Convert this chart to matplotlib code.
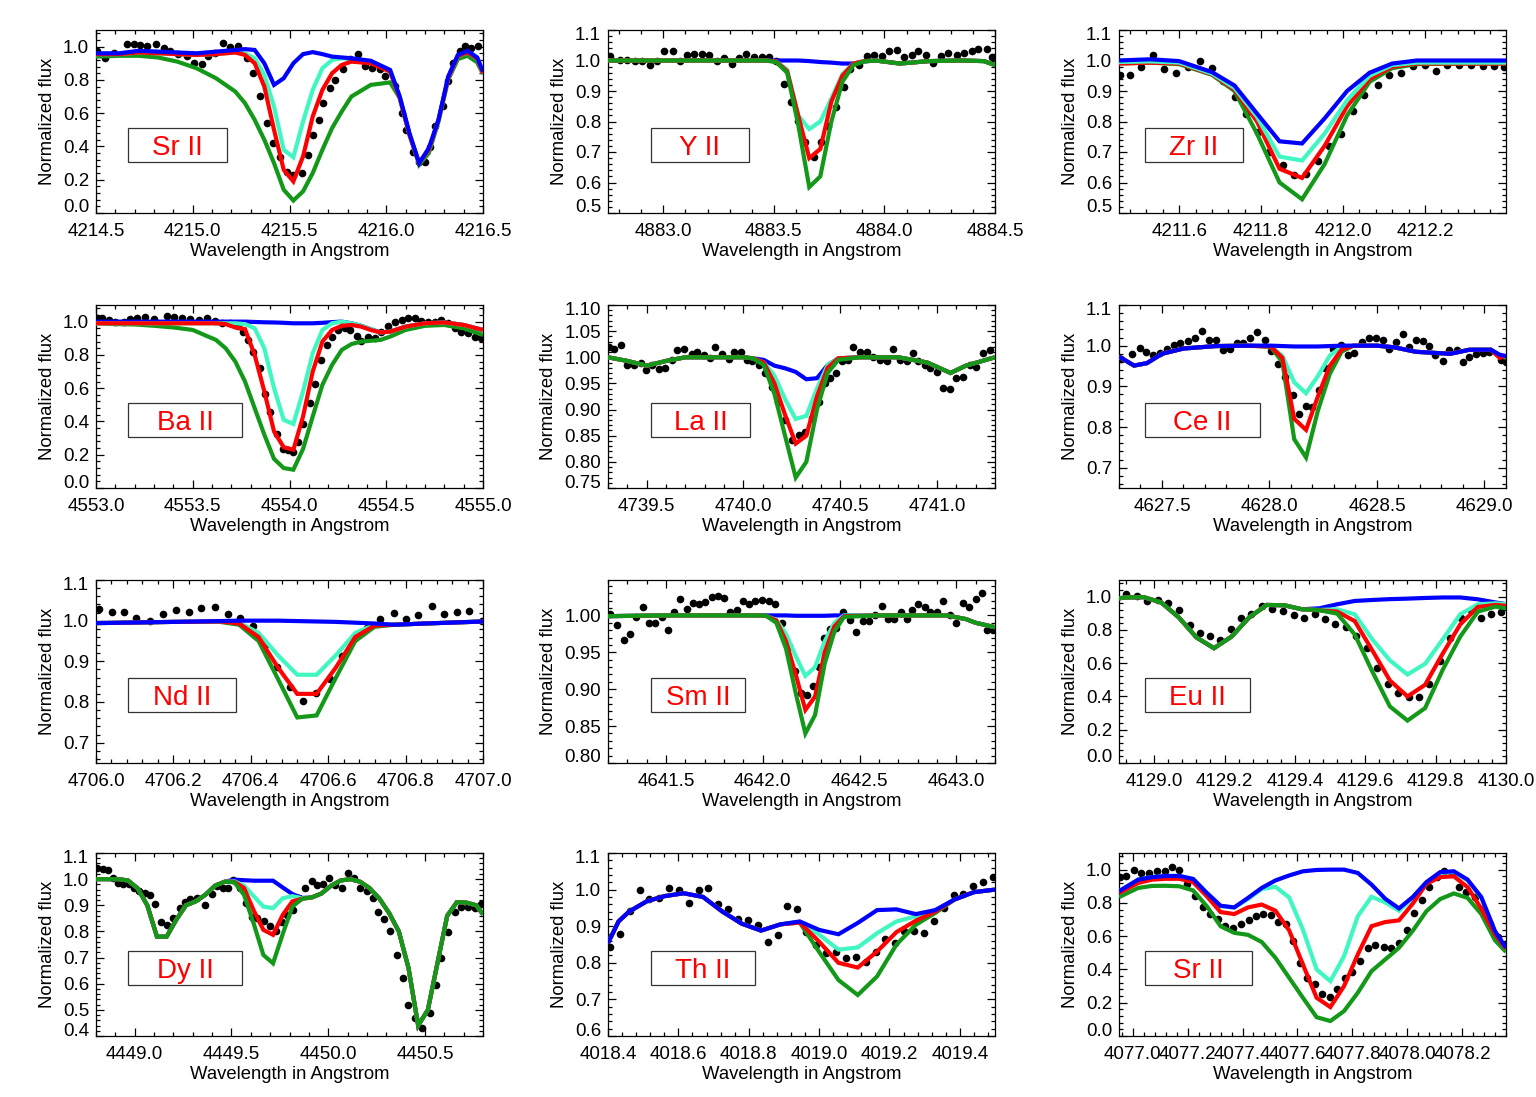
import matplotlib
matplotlib.use('Agg')
import matplotlib.pyplot as plt
from matplotlib.ticker import AutoMinorLocator, FormatStrFormatter, FixedLocator
from matplotlib.patches import Rectangle
from matplotlib.transforms import ScaledTranslation

plt.rcParams['font.family'] = ['Liberation Sans', 'DejaVu Sans']
plt.rcParams['axes.linewidth'] = 0.9

# ---------------- Panel 1: Sr II 4215.5 ----------------
sr1_x = [4214.50, 4214.62, 4214.72, 4214.82, 4214.92, 4215.02, 4215.12, 4215.22, 4215.27, 4215.32,
         4215.37, 4215.42, 4215.47, 4215.52, 4215.57, 4215.62, 4215.67, 4215.72, 4215.77, 4215.82,
         4215.92, 4216.02, 4216.07, 4216.12, 4216.17, 4216.22, 4216.27, 4216.32, 4216.37, 4216.42,
         4216.47, 4216.50]
sr1_blue = [0.96, 0.96, 0.975, 0.97, 0.965, 0.96, 0.97, 0.98, 0.985, 0.98, 0.90, 0.77, 0.81, 0.90, 0.955,
            0.967, 0.955, 0.94, 0.935, 0.93, 0.915, 0.86, 0.70, 0.48, 0.30, 0.39, 0.56, 0.82, 0.95, 0.975,
            0.935, 0.85]
sr1_cyan = [0.955, 0.955, 0.965, 0.96, 0.955, 0.95, 0.955, 0.965, 0.96, 0.93, 0.83, 0.64, 0.38, 0.335, 0.55,
            0.74, 0.87, 0.92, 0.93, 0.925, 0.91, 0.855, 0.69, 0.47, 0.30, 0.38, 0.56, 0.81, 0.945, 0.965,
            0.93, 0.84]
sr1_red = [0.955, 0.955, 0.965, 0.96, 0.955, 0.95, 0.955, 0.965, 0.95, 0.90, 0.76, 0.50, 0.26, 0.19, 0.34,
           0.58, 0.74, 0.84, 0.89, 0.91, 0.90, 0.85, 0.69, 0.47, 0.30, 0.38, 0.56, 0.81, 0.945, 0.965,
           0.93, 0.84]
sr1_green = [0.94, 0.945, 0.945, 0.935, 0.91, 0.87, 0.81, 0.73, 0.66, 0.56, 0.44, 0.30, 0.14, 0.075, 0.13,
             0.24, 0.38, 0.51, 0.61, 0.70, 0.77, 0.785, 0.69, 0.47, 0.29, 0.36, 0.55, 0.80, 0.925, 0.945,
             0.905, 0.835]
sr1_obs_x = [4214.505, 4214.548, 4214.591, 4214.66, 4214.694, 4214.729, 4214.763, 4214.811, 4214.849, 4214.883,
             4214.926, 4214.969, 4215.004, 4215.047, 4215.081, 4215.116, 4215.155, 4215.193, 4215.236, 4215.279,
             4215.313, 4215.348, 4215.382, 4215.417, 4215.451, 4215.485, 4215.52, 4215.563, 4215.597, 4215.623,
             4215.654, 4215.675, 4215.709, 4215.735, 4215.778, 4215.812, 4215.855, 4215.889, 4215.924, 4215.967,
             4215.993, 4216.044, 4216.079, 4216.104, 4216.139, 4216.17, 4216.199, 4216.225, 4216.251, 4216.294,
             4216.319, 4216.345, 4216.38, 4216.405, 4216.44, 4216.474]
sr1_obs_y = [0.974, 0.933, 0.96, 1.014, 1.014, 1.008, 1.004, 1.014, 0.994, 0.974,
             0.954, 0.944, 0.903, 0.893, 0.944, 0.964, 1.02, 1.0, 1.004, 0.933,
             0.843, 0.702, 0.54, 0.419, 0.339, 0.248, 0.228, 0.238, 0.349, 0.47,
             0.56, 0.661, 0.752, 0.802, 0.863, 0.923, 0.954, 0.883, 0.873, 0.863,
             0.823, 0.762, 0.601, 0.5, 0.369, 0.308, 0.308, 0.399, 0.52, 0.641,
             0.792, 0.903, 0.974, 1.004, 0.994, 1.004]
sr1_xticks = [4214.5, 4215.0, 4215.5, 4216.0, 4216.5]
sr1_yticks = [0.0, 0.2, 0.4, 0.6, 0.8, 1.0]

# ---------------- Panel 2: Y II ----------------
y_x = [4882.75, 4883.0, 4883.25, 4883.46, 4883.51, 4883.56, 4883.61, 4883.66, 4883.71, 4883.76,
       4883.81, 4883.86, 4883.91, 4883.96, 4884.07, 4884.2, 4884.35, 4884.45, 4884.5]
y_blue = [1.0, 1.0, 1.0, 1.0, 1.0, 1.0, 1.0, 0.998, 0.995, 0.993, 0.99, 0.99, 0.997, 1.0, 0.99, 0.998, 1.0, 0.998, 0.985]
y_cyan = [1.0, 1.0, 1.0, 1.0, 0.997, 0.97, 0.82, 0.775, 0.80, 0.875, 0.955, 0.99, 0.998, 1.0, 0.99, 0.998, 1.0, 0.998, 0.985]
y_red = [1.0, 1.0, 1.0, 1.0, 0.997, 0.965, 0.82, 0.68, 0.71, 0.865, 0.95, 0.99, 0.998, 1.0, 0.99, 0.998, 1.0, 0.998, 0.985]
y_green = [1.0, 1.0, 1.0, 1.0, 0.995, 0.96, 0.79, 0.585, 0.62, 0.80, 0.93, 0.985, 0.997, 1.0, 0.99, 0.998, 1.0, 0.998, 0.985]
y_obs_x = [4882.761, 4882.803, 4882.836, 4882.87, 4882.905, 4882.938, 4882.971, 4883.005, 4883.043, 4883.076,
           4883.106, 4883.14, 4883.175, 4883.208, 4883.242, 4883.276, 4883.31, 4883.343, 4883.376, 4883.411,
           4883.445, 4883.478, 4883.511, 4883.546, 4883.576, 4883.61, 4883.643, 4883.681, 4883.715, 4883.745,
           4883.783, 4883.816, 4883.846, 4883.884, 4883.921, 4883.951, 4883.989, 4884.019, 4884.056, 4884.089,
           4884.124, 4884.154, 4884.187, 4884.221, 4884.256, 4884.289, 4884.327, 4884.361, 4884.394, 4884.424,
           4884.462, 4884.487]
y_obs_y = [1.016, 1.003, 1.003, 0.997, 0.997, 0.984, 0.997, 1.03, 1.032, 0.997,
           1.019, 1.022, 1.022, 1.019, 1.0, 1.008, 0.989, 1.008, 1.022, 1.011,
           1.011, 1.011, 0.997, 0.923, 0.863, 0.803, 0.732, 0.683, 0.732, 0.785,
           0.847, 0.913, 0.973, 0.984, 1.014, 1.019, 1.016, 1.03, 1.036, 1.011,
           1.019, 1.03, 1.019, 0.992, 1.016, 1.025, 1.019, 1.024, 1.03, 1.038,
           1.038, 1.011]
y_xticks = [4883.0, 4883.5, 4884.0, 4884.5]
y_yticks = [0.5, 0.6, 0.7, 0.8, 0.9, 1.0, 1.1]

# ---------------- Panel 3: Zr II ----------------
zr_x = [4211.45, 4211.53, 4211.60, 4211.68, 4211.735, 4211.79, 4211.845, 4211.90, 4211.955, 4212.01,
        4212.065, 4212.12, 4212.18, 4212.30, 4212.40]
zr_blue = [1.0, 1.004, 0.998, 0.962, 0.918, 0.826, 0.735, 0.728, 0.81, 0.90, 0.96, 0.99, 1.0, 1.0, 1.0]
zr_cyan = [0.995, 0.997, 0.993, 0.957, 0.91, 0.815, 0.685, 0.672, 0.76, 0.87, 0.95, 0.985, 0.993, 0.993, 0.993]
zr_red = [0.99, 0.993, 0.99, 0.955, 0.905, 0.80, 0.645, 0.615, 0.72, 0.85, 0.94, 0.98, 0.99, 0.99, 0.99]
zr_green = [0.99, 0.993, 0.988, 0.953, 0.90, 0.76, 0.60, 0.545, 0.66, 0.82, 0.93, 0.975, 0.988, 0.99, 0.99]
zr_obs_x = [4211.455, 4211.479, 4211.507, 4211.536, 4211.564, 4211.593, 4211.621, 4211.651, 4211.679, 4211.707,
            4211.737, 4211.764, 4211.792, 4211.82, 4211.853, 4211.881, 4211.91, 4211.938, 4211.967, 4211.995,
            4212.024, 4212.052, 4212.085, 4212.113, 4212.142, 4212.17, 4212.199, 4212.227, 4212.255, 4212.284,
            4212.312, 4212.341, 4212.369, 4212.394]
zr_obs_y = [0.951, 0.953, 0.978, 1.019, 0.973, 0.958, 0.978, 0.997, 0.976, 0.934,
            0.88, 0.823, 0.765, 0.70, 0.659, 0.623, 0.628, 0.672, 0.721, 0.76,
            0.836, 0.887, 0.92, 0.953, 0.958, 0.981, 0.984, 0.965, 0.986, 0.986,
            0.984, 0.981, 0.981, 0.978]
zr_xticks = [4211.6, 4211.8, 4212.0, 4212.2]
zr_yticks = [0.5, 0.6, 0.7, 0.8, 0.9, 1.0, 1.1]

# ---------------- Panel 4: Ba II ----------------
ba_x = [4553.0, 4553.1, 4553.2, 4553.3, 4553.4, 4553.5, 4553.62, 4553.67, 4553.72, 4553.77,
        4553.82, 4553.87, 4553.92, 4553.97, 4554.02, 4554.07, 4554.12, 4554.17, 4554.22, 4554.27,
        4554.32, 4554.37, 4554.42, 4554.47, 4554.52, 4554.6, 4554.7, 4554.8, 4554.9, 4555.0]
ba_blue = [1.0, 1.0, 1.0, 1.0, 1.0, 1.0, 1.0, 1.0, 1.0, 1.0, 0.998, 0.996, 0.995, 0.993, 0.99,
           0.99, 0.99, 0.993, 0.997, 1.0, 0.99, 0.975, 0.955, 0.935, 0.94, 0.97, 0.99, 0.995, 0.98, 0.95]
ba_cyan = [0.99, 0.99, 0.99, 0.99, 0.99, 0.99, 0.99, 0.99, 0.99, 0.985, 0.96, 0.84, 0.60, 0.41, 0.385,
           0.58, 0.81, 0.95, 0.99, 1.0, 0.99, 0.975, 0.955, 0.935, 0.94, 0.97, 0.99, 0.995, 0.98, 0.95]
ba_red = [0.99, 0.99, 0.99, 0.99, 0.99, 0.99, 0.99, 0.985, 0.965, 0.955, 0.80, 0.58, 0.34, 0.245, 0.23,
          0.43, 0.70, 0.88, 0.95, 0.975, 0.98, 0.97, 0.95, 0.935, 0.94, 0.97, 0.99, 0.995, 0.98, 0.95]
ba_green = [0.99, 0.985, 0.983, 0.975, 0.965, 0.95, 0.89, 0.84, 0.76, 0.64, 0.48, 0.32, 0.175, 0.12, 0.11,
            0.235, 0.43, 0.62, 0.74, 0.83, 0.865, 0.88, 0.885, 0.89, 0.91, 0.95, 0.975, 0.98, 0.96, 0.92]
ba_obs_x = [4553.005, 4553.031, 4553.065, 4553.1, 4553.143, 4553.177, 4553.212, 4553.255, 4553.298, 4553.366,
            4553.401, 4553.444, 4553.487, 4553.53, 4553.573, 4553.616, 4553.65, 4553.693, 4553.736, 4553.762,
            4553.788, 4553.813, 4553.848, 4553.874, 4553.899, 4553.934, 4553.968, 4553.994, 4554.02, 4554.046,
            4554.071, 4554.106, 4554.132, 4554.161, 4554.192, 4554.218, 4554.252, 4554.286, 4554.312, 4554.347,
            4554.372, 4554.407, 4554.441, 4554.475, 4554.51, 4554.544, 4554.579, 4554.613, 4554.647, 4554.682,
            4554.716, 4554.751, 4554.785, 4554.819, 4554.854, 4554.888, 4554.923, 4554.957, 4554.991]
ba_obs_y = [1.02, 1.02, 1.01, 1.0, 1.0, 1.016, 1.024, 1.03, 1.016, 1.034,
            1.03, 1.02, 1.016, 1.01, 1.02, 1.004, 0.99, 0.99, 0.976, 0.94,
            0.889, 0.819, 0.719, 0.568, 0.457, 0.327, 0.236, 0.226, 0.216, 0.276,
            0.387, 0.508, 0.628, 0.769, 0.859, 0.91, 0.95, 0.964, 0.95, 0.916,
            0.883, 0.91, 0.904, 0.94, 0.976, 1.0, 1.01, 1.02, 1.024, 1.004,
            1.0, 0.996, 1.01, 0.99, 0.96, 0.94, 0.93, 0.91, 0.9]
ba_xticks = [4553.0, 4553.5, 4554.0, 4554.5, 4555.0]
ba_yticks = [0.0, 0.2, 0.4, 0.6, 0.8, 1.0]

# ---------------- Panel 5: La II ----------------
la_x = [4739.3, 4739.4, 4739.5, 4739.6, 4739.7, 4739.85, 4740.0, 4740.05, 4740.105, 4740.16,
        4740.215, 4740.27, 4740.325, 4740.38, 4740.435, 4740.49, 4740.6, 4740.8, 4740.95, 4741.07,
        4741.15, 4741.3]
la_blue = [1.0, 0.993, 0.984, 0.993, 1.0, 1.0, 1.0, 0.998, 0.995, 0.984, 0.979, 0.972, 0.958, 0.96, 0.985,
           0.998, 1.0, 1.0, 0.99, 0.97, 0.984, 1.0]
la_cyan = [1.0, 0.993, 0.984, 0.993, 1.0, 1.0, 1.0, 0.998, 0.99, 0.965, 0.92, 0.882, 0.888, 0.94, 0.985,
           0.998, 1.0, 1.0, 0.99, 0.97, 0.984, 1.0]
la_red = [1.0, 0.993, 0.984, 0.993, 1.0, 1.0, 1.0, 0.998, 0.99, 0.95, 0.89, 0.835, 0.85, 0.925, 0.98,
          0.998, 1.0, 1.0, 0.99, 0.97, 0.984, 1.0]
la_green = [1.0, 0.993, 0.984, 0.993, 1.0, 1.0, 1.0, 0.998, 0.985, 0.93, 0.85, 0.77, 0.80, 0.90, 0.97,
            0.995, 1.0, 1.0, 0.99, 0.97, 0.984, 1.0]
la_obs_x = [4739.305, 4739.331, 4739.365, 4739.4, 4739.434, 4739.468, 4739.498, 4739.529, 4739.563, 4739.597,
            4739.632, 4739.657, 4739.695, 4739.735, 4739.76, 4739.795, 4739.826, 4739.855, 4739.889, 4739.924,
            4739.953, 4739.987, 4740.018, 4740.044, 4740.078, 4740.113, 4740.147, 4740.181, 4740.216, 4740.25,
            4740.285, 4740.319, 4740.353, 4740.388, 4740.422, 4740.448, 4740.479, 4740.508, 4740.542, 4740.568,
            4740.602, 4740.637, 4740.671, 4740.705, 4740.74, 4740.774, 4740.809, 4740.843, 4740.877, 4740.903,
            4740.937, 4740.963, 4740.998, 4741.032, 4741.07, 4741.101, 4741.135, 4741.169, 4741.204, 4741.238,
            4741.273]
la_obs_y = [1.02, 1.016, 1.024, 0.985, 0.985, 0.989, 0.976, 0.985, 0.978, 0.979,
            0.995, 1.014, 1.015, 1.006, 1.01, 1.004, 0.998, 1.019, 1.006, 0.997,
            1.011, 1.011, 0.994, 0.992, 0.985, 0.969, 0.944, 0.915, 0.88, 0.842,
            0.851, 0.858, 0.883, 0.915, 0.95, 0.96, 0.969, 0.993, 0.995, 1.02,
            1.011, 1.011, 1.001, 0.995, 0.993, 1.015, 0.995, 0.992, 1.008, 0.992,
            0.985, 0.979, 0.971, 0.941, 0.939, 0.96, 0.963, 0.985, 0.982, 1.008,
            1.014]
la_xticks = [4739.5, 4740.0, 4740.5, 4741.0]
la_yticks = [0.75, 0.80, 0.85, 0.90, 0.95, 1.00, 1.05, 1.10]

# ---------------- Panel 6: Ce II ----------------
ce_x = [4627.3, 4627.37, 4627.43, 4627.5, 4627.6, 4627.75, 4627.9, 4628.005, 4628.06, 4628.115,
        4628.17, 4628.225, 4628.28, 4628.335, 4628.39, 4628.5, 4628.58, 4628.68, 4628.84, 4628.93,
        4629.03, 4629.07, 4629.1]
ce_blue = [0.973, 0.951, 0.957, 0.98, 0.993, 0.999, 1.0, 1.0, 0.999, 0.998, 0.998, 0.998, 0.999, 1.0, 1.0,
           1.0, 0.996, 0.985, 0.98, 0.99, 0.99, 0.978, 0.974]
ce_cyan = [0.973, 0.951, 0.957, 0.98, 0.993, 0.999, 1.0, 0.999, 0.975, 0.91, 0.883, 0.925, 0.975, 0.997, 1.0,
           1.0, 0.996, 0.985, 0.98, 0.99, 0.99, 0.975, 0.974]
ce_red = [0.973, 0.951, 0.957, 0.98, 0.993, 0.999, 1.0, 0.998, 0.97, 0.82, 0.793, 0.875, 0.95, 0.99, 1.0,
          1.0, 0.996, 0.985, 0.98, 0.99, 0.99, 0.97, 0.975]
ce_green = [0.973, 0.951, 0.957, 0.98, 0.993, 0.999, 1.0, 0.997, 0.96, 0.77, 0.725, 0.84, 0.93, 0.985, 1.0,
            1.0, 0.996, 0.985, 0.98, 0.99, 0.99, 0.975, 0.97]
ce_obs_x = [4627.311, 4627.362, 4627.396, 4627.427, 4627.458, 4627.489, 4627.523, 4627.554, 4627.585, 4627.621,
            4627.655, 4627.686, 4627.718, 4627.752, 4627.783, 4627.817, 4627.848, 4627.879, 4627.91, 4627.941,
            4627.977, 4628.008, 4628.039, 4628.073, 4628.109, 4628.137, 4628.168, 4628.199, 4628.23, 4628.26,
            4628.295, 4628.333, 4628.364, 4628.395, 4628.429, 4628.462, 4628.496, 4628.527, 4628.558, 4628.589,
            4628.62, 4628.651, 4628.682, 4628.713, 4628.744, 4628.772, 4628.806, 4628.837, 4628.871, 4628.899,
            4628.93, 4628.961, 4628.992, 4629.023, 4629.077, 4629.1]
ce_obs_y = [0.967, 0.98, 0.994, 0.985, 0.976, 0.982, 0.993, 1.002, 1.007, 1.012,
            1.018, 1.037, 1.015, 1.015, 0.99, 0.993, 1.006, 1.006, 1.018, 1.033,
            1.015, 0.988, 0.955, 0.922, 0.879, 0.833, 0.851, 0.849, 0.89, 0.944,
            0.992, 1.002, 0.976, 0.982, 1.01, 1.02, 1.02, 1.015, 0.993, 1.01,
            1.029, 0.996, 1.015, 1.012, 0.998, 0.976, 0.963, 0.99, 0.99, 0.961,
            0.971, 0.98, 0.982, 0.984, 0.965, 0.961]
ce_xticks = [4627.5, 4628.0, 4628.5, 4629.0]
ce_yticks = [0.7, 0.8, 0.9, 1.0, 1.1]

# ---------------- Panel 7: Nd II ----------------
nd_x = [4706.0, 4706.2, 4706.32, 4706.37, 4706.42, 4706.47, 4706.52, 4706.57, 4706.62, 4706.67,
        4706.72, 4706.77, 4706.85, 4707.0]
nd_blue = [0.994, 0.997, 0.999, 1.0, 1.0, 1.0, 0.999, 0.998, 0.997, 0.995, 0.993, 0.99, 0.993, 0.998]
nd_cyan = [0.994, 0.997, 0.998, 0.995, 0.97, 0.915, 0.867, 0.867, 0.915, 0.97, 0.99, 0.99, 0.993, 0.998]
nd_red = [0.994, 0.997, 0.998, 0.993, 0.96, 0.885, 0.82, 0.82, 0.885, 0.96, 0.988, 0.99, 0.993, 0.998]
nd_green = [0.994, 0.997, 0.997, 0.99, 0.95, 0.857, 0.762, 0.767, 0.86, 0.95, 0.985, 0.99, 0.993, 0.998]
nd_obs_x = [4706.009, 4706.041, 4706.073, 4706.104, 4706.14, 4706.173, 4706.207, 4706.24, 4706.272, 4706.307,
            4706.341, 4706.373, 4706.406, 4706.436, 4706.468, 4706.501, 4706.535, 4706.568, 4706.604, 4706.635,
            4706.669, 4706.699, 4706.734, 4706.769, 4706.801, 4706.833, 4706.868, 4706.9, 4706.933, 4706.965,
            4706.997]
nd_obs_y = [1.028, 1.021, 1.021, 1.006, 1.0, 1.017, 1.025, 1.021, 1.031, 1.034,
            1.017, 1.006, 0.987, 0.941, 0.887, 0.836, 0.803, 0.821, 0.857, 0.912,
            0.958, 0.983, 1.003, 1.018, 1.004, 1.014, 1.035, 1.017, 1.021, 1.023,
            1.0]
nd_xticks = [4706.0, 4706.2, 4706.4, 4706.6, 4706.8, 4707.0]
nd_yticks = [0.7, 0.8, 0.9, 1.0, 1.1]

# ---------------- Panel 8: Sm II ----------------
sm_x = [4641.2, 4641.5, 4641.8, 4642.0, 4642.02, 4642.07, 4642.12, 4642.17, 4642.22, 4642.27,
        4642.32, 4642.37, 4642.42, 4642.6, 4642.8, 4642.95, 4643.05, 4643.1, 4643.2]
sm_blue = [0.999, 1.0, 1.0, 1.0, 1.0, 1.0, 1.0, 0.9995, 0.9995, 0.9995, 0.9995, 1.0, 1.0, 1.0, 1.0, 1.0,
           0.995, 0.99, 0.984]
sm_cyan = [0.999, 1.0, 1.0, 1.0, 0.999, 0.994, 0.975, 0.945, 0.918, 0.93, 0.965, 0.99, 1.0, 1.0, 1.0, 1.0,
           0.995, 0.99, 0.984]
sm_red = [0.999, 1.0, 1.0, 1.0, 0.999, 0.993, 0.965, 0.92, 0.872, 0.89, 0.95, 0.985, 0.999, 1.0, 1.0, 1.0,
          0.995, 0.99, 0.984]
sm_green = [0.999, 1.0, 1.0, 1.0, 0.999, 0.99, 0.955, 0.895, 0.84, 0.865, 0.935, 0.978, 0.998, 1.0, 1.0, 1.0,
            0.995, 0.99, 0.984]
sm_obs_x = [4641.212, 4641.246, 4641.281, 4641.312, 4641.346, 4641.381, 4641.41, 4641.444, 4641.479, 4641.508,
            4641.543, 4641.573, 4641.608, 4641.639, 4641.668, 4641.703, 4641.737, 4641.771, 4641.801, 4641.832,
            4641.866, 4641.897, 4641.931, 4641.961, 4641.995, 4642.03, 4642.061, 4642.098, 4642.133, 4642.167,
            4642.197, 4642.228, 4642.259, 4642.288, 4642.314, 4642.345, 4642.379, 4642.417, 4642.451, 4642.482,
            4642.517, 4642.551, 4642.58, 4642.615, 4642.649, 4642.68, 4642.713, 4642.744, 4642.77, 4642.804,
            4642.839, 4642.864, 4642.902, 4642.933, 4642.968, 4642.999, 4643.033, 4643.067, 4643.102, 4643.131,
            4643.16, 4643.191]
sm_obs_y = [1.002, 0.987, 0.967, 0.975, 0.998, 1.011, 0.99, 0.99, 0.998, 0.98,
            1.005, 1.022, 1.009, 1.017, 1.015, 1.018, 1.025, 1.026, 1.024, 1.005,
            1.008, 1.02, 1.015, 1.019, 1.021, 1.02, 1.015, 0.99, 0.958, 0.924,
            0.895, 0.892, 0.905, 0.93, 0.969, 0.981, 0.983, 1.004, 0.994, 0.978,
            0.992, 0.992, 1.001, 1.013, 0.995, 0.995, 1.005, 0.995, 1.008, 1.016,
            1.012, 1.005, 1.005, 1.02, 1.001, 0.99, 1.017, 1.011, 1.022, 1.03,
            0.98, 0.98]
sm_xticks = [4641.5, 4642.0, 4642.5, 4643.0]
sm_yticks = [0.80, 0.85, 0.90, 0.95, 1.00]

# ---------------- Panel 9: Eu II ----------------
eu_x = [4128.9, 4128.92, 4128.97, 4129.02, 4129.07, 4129.12, 4129.17, 4129.22, 4129.27, 4129.32,
        4129.37, 4129.42, 4129.47, 4129.52, 4129.57, 4129.62, 4129.67, 4129.72, 4129.77, 4129.82,
        4129.87, 4129.92, 4129.97, 4130.0]
eu_blue = [0.99, 0.995, 0.997, 0.965, 0.875, 0.755, 0.69, 0.76, 0.875, 0.95, 0.948, 0.924, 0.93, 0.954,
           0.974, 0.98, 0.985, 0.988, 0.992, 0.995, 0.995, 0.984, 0.965, 0.955]
eu_cyan = [0.99, 0.995, 0.997, 0.965, 0.875, 0.755, 0.69, 0.76, 0.875, 0.95, 0.948, 0.924, 0.92, 0.924,
           0.894, 0.743, 0.617, 0.532, 0.596, 0.743, 0.894, 0.954, 0.96, 0.955]
eu_red = [0.99, 0.995, 0.997, 0.965, 0.875, 0.755, 0.69, 0.76, 0.875, 0.95, 0.948, 0.924, 0.918, 0.91,
          0.853, 0.677, 0.496, 0.40, 0.47, 0.657, 0.833, 0.938, 0.95, 0.945]
eu_green = [0.99, 0.995, 0.997, 0.965, 0.875, 0.755, 0.69, 0.76, 0.875, 0.95, 0.948, 0.924, 0.918, 0.898,
            0.773, 0.55, 0.34, 0.255, 0.33, 0.56, 0.76, 0.91, 0.94, 0.93]
eu_obs_x = [4128.921, 4128.951, 4128.98, 4129.01, 4129.04, 4129.07, 4129.101, 4129.129, 4129.159, 4129.188,
            4129.218, 4129.247, 4129.276, 4129.306, 4129.335, 4129.366, 4129.396, 4129.425, 4129.456, 4129.486,
            4129.515, 4129.546, 4129.574, 4129.604, 4129.633, 4129.664, 4129.692, 4129.723, 4129.752, 4129.782,
            4129.811, 4129.841, 4129.872, 4129.9, 4129.929, 4129.957, 4129.986]
eu_obs_y = [1.018, 1.004, 0.974, 0.978, 0.96, 0.918, 0.829, 0.783, 0.763, 0.737,
            0.803, 0.869, 0.898, 0.944, 0.924, 0.914, 0.89, 0.873, 0.894, 0.863,
            0.833, 0.817, 0.763, 0.693, 0.572, 0.472, 0.422, 0.396, 0.396, 0.472,
            0.612, 0.753, 0.869, 0.918, 0.869, 0.898, 0.91]
eu_xticks = [4129.0, 4129.2, 4129.4, 4129.6, 4129.8, 4130.0]
eu_yticks = [0.0, 0.2, 0.4, 0.6, 0.8, 1.0]

# ---------------- Panel 10: Dy II ----------------
dy_x = [4448.8, 4448.865, 4448.915, 4448.965, 4449.015, 4449.065, 4449.115, 4449.165, 4449.215, 4449.265,
        4449.315, 4449.365, 4449.415, 4449.465, 4449.515, 4449.565, 4449.615, 4449.665, 4449.715, 4449.765,
        4449.815, 4449.865, 4449.915, 4449.965, 4450.015, 4450.065, 4450.115, 4450.165, 4450.215, 4450.265,
        4450.315, 4450.365, 4450.415, 4450.465, 4450.515, 4450.565, 4450.615, 4450.665, 4450.715, 4450.765,
        4450.8]
dy_blue = [1.0, 1.0, 1.0, 0.995, 0.965, 0.90, 0.78, 0.78, 0.845, 0.90,
           0.915, 0.94, 0.975, 0.99, 0.998, 0.996, 0.994, 0.994, 0.994, 0.968,
           0.943, 0.928, 0.93, 0.945, 0.975, 0.995, 1.0, 0.99, 0.965, 0.925,
           0.87, 0.80, 0.66, 0.44, 0.50, 0.68, 0.86, 0.912, 0.91, 0.90,
           0.865]
dy_cyan = [1.0, 1.0, 1.0, 0.995, 0.965, 0.90, 0.78, 0.78, 0.845, 0.90,
           0.915, 0.94, 0.975, 0.99, 0.992, 0.975, 0.935, 0.895, 0.889, 0.927,
           0.935, 0.927, 0.93, 0.945, 0.975, 0.995, 1.0, 0.99, 0.965, 0.925,
           0.87, 0.80, 0.66, 0.44, 0.50, 0.68, 0.86, 0.912, 0.91, 0.90,
           0.865]
dy_red = [1.0, 1.0, 1.0, 0.995, 0.965, 0.90, 0.78, 0.78, 0.845, 0.90,
          0.915, 0.94, 0.975, 0.99, 0.99, 0.966, 0.88, 0.806, 0.787, 0.863,
          0.915, 0.925, 0.93, 0.945, 0.975, 0.995, 1.0, 0.99, 0.965, 0.925,
          0.87, 0.80, 0.66, 0.44, 0.50, 0.68, 0.86, 0.912, 0.91, 0.90,
          0.865]
dy_green = [1.0, 1.0, 1.0, 0.995, 0.965, 0.90, 0.78, 0.78, 0.845, 0.90,
            0.915, 0.94, 0.975, 0.99, 0.988, 0.94, 0.83, 0.71, 0.678, 0.79,
            0.895, 0.925, 0.93, 0.945, 0.975, 0.995, 1.0, 0.99, 0.965, 0.925,
            0.87, 0.80, 0.66, 0.44, 0.50, 0.68, 0.86, 0.912, 0.91, 0.90,
            0.865]
dy_obs_x = [4448.805, 4448.836, 4448.86, 4448.886, 4448.912, 4448.939, 4448.969, 4448.994, 4449.02, 4449.055,
            4449.077, 4449.106, 4449.137, 4449.166, 4449.197, 4449.232, 4449.261, 4449.287, 4449.321, 4449.364,
            4449.398, 4449.424, 4449.455, 4449.484, 4449.51, 4449.545, 4449.576, 4449.605, 4449.634, 4449.668,
            4449.699, 4449.73, 4449.76, 4449.789, 4449.82, 4449.851, 4449.88, 4449.914, 4449.944, 4449.975,
            4450.005, 4450.035, 4450.069, 4450.104, 4450.133, 4450.164, 4450.198, 4450.232, 4450.258, 4450.288,
            4450.318, 4450.353, 4450.384, 4450.413, 4450.447, 4450.487, 4450.525, 4450.556, 4450.585, 4450.619,
            4450.654, 4450.688, 4450.723, 4450.757, 4450.791]
dy_obs_y = [1.042, 1.04, 1.036, 1.004, 0.985, 0.981, 0.981, 0.968, 0.953, 0.946,
            0.94, 0.904, 0.835, 0.825, 0.853, 0.891, 0.914, 0.925, 0.927, 0.902,
            0.943, 0.972, 0.966, 0.968, 0.997, 0.966, 0.908, 0.857, 0.85, 0.84,
            0.819, 0.802, 0.835, 0.861, 0.883, 0.927, 0.966, 0.994, 0.978, 0.981,
            1.004, 0.978, 0.968, 1.023, 1.004, 0.966, 0.953, 0.927, 0.876, 0.848,
            0.80, 0.71, 0.621, 0.519, 0.467, 0.432, 0.487, 0.595, 0.697, 0.797,
            0.876, 0.895, 0.895, 0.891, 0.904]
dy_xticks = [4449.0, 4449.5, 4450.0, 4450.5]
dy_yticks = [0.4, 0.5, 0.6, 0.7, 0.8, 0.9, 1.0, 1.1]

# ---------------- Panel 11: Th II ----------------
th_x = [4018.4, 4018.43, 4018.46, 4018.51, 4018.56, 4018.615, 4018.67, 4018.725, 4018.78, 4018.835,
        4018.89, 4018.945, 4019.0, 4019.055, 4019.11, 4019.165, 4019.22, 4019.275, 4019.33, 4019.385,
        4019.44, 4019.5]
th_blue = [0.854, 0.913, 0.94, 0.968, 0.982, 0.99, 0.98, 0.94, 0.907, 0.888, 0.905, 0.913, 0.89, 0.878,
           0.909, 0.944, 0.946, 0.933, 0.944, 0.973, 0.993, 1.0]
th_cyan = [0.854, 0.913, 0.94, 0.968, 0.982, 0.99, 0.98, 0.94, 0.907, 0.888, 0.905, 0.912, 0.877, 0.836,
           0.842, 0.881, 0.913, 0.927, 0.942, 0.973, 0.993, 1.0]
th_red = [0.854, 0.913, 0.94, 0.968, 0.982, 0.99, 0.98, 0.94, 0.907, 0.888, 0.905, 0.91, 0.858, 0.80,
          0.787, 0.831, 0.884, 0.915, 0.94, 0.973, 0.993, 1.0]
th_green = [0.854, 0.913, 0.94, 0.968, 0.982, 0.99, 0.98, 0.94, 0.907, 0.888, 0.905, 0.91, 0.83, 0.753,
            0.712, 0.763, 0.85, 0.904, 0.936, 0.973, 0.993, 1.0]
th_obs_x = [4018.407, 4018.433, 4018.462, 4018.49, 4018.517, 4018.545, 4018.574, 4018.602, 4018.63, 4018.659,
            4018.684, 4018.713, 4018.741, 4018.77, 4018.798, 4018.827, 4018.855, 4018.884, 4018.909, 4018.936,
            4018.964, 4018.991, 4019.019, 4019.048, 4019.076, 4019.105, 4019.133, 4019.161, 4019.187, 4019.216,
            4019.241, 4019.27, 4019.298, 4019.326, 4019.355, 4019.383, 4019.41, 4019.438, 4019.466, 4019.495]
th_obs_y = [0.842, 0.879, 0.942, 1.0, 0.973, 0.977, 1.005, 1.0, 0.963, 1.0,
            1.005, 0.961, 0.948, 0.921, 0.918, 0.904, 0.858, 0.875, 0.954, 0.947,
            0.884, 0.849, 0.826, 0.829, 0.813, 0.815, 0.802, 0.829, 0.866, 0.854,
            0.886, 0.888, 0.881, 0.913, 0.95, 0.984, 0.989, 1.009, 1.021, 1.035]
th_xticks = [4018.4, 4018.6, 4018.8, 4019.0, 4019.2, 4019.4]
th_yticks = [0.6, 0.7, 0.8, 0.9, 1.0, 1.1]

# ---------------- Panel 12: Sr II 4077.7 ----------------
sr2_x = [4076.95, 4077.02, 4077.07, 4077.12, 4077.17, 4077.22, 4077.27, 4077.32, 4077.37, 4077.42,
         4077.47, 4077.52, 4077.57, 4077.62, 4077.67, 4077.72, 4077.77, 4077.82, 4077.87, 4077.92,
         4077.97, 4078.02, 4078.07, 4078.12, 4078.17, 4078.22, 4078.27, 4078.32, 4078.36]
sr2_blue = [0.87, 0.94, 0.955, 0.962, 0.962, 0.944, 0.86, 0.783, 0.773, 0.83, 0.89, 0.935, 0.965, 0.99,
            0.998, 1.0, 1.0, 0.98, 0.91, 0.825, 0.767, 0.835, 0.925, 0.985, 0.99, 0.94, 0.835, 0.63, 0.53]
sr2_cyan = [0.87, 0.94, 0.955, 0.962, 0.962, 0.944, 0.86, 0.78, 0.772, 0.823, 0.883, 0.897, 0.833, 0.64,
            0.40, 0.33, 0.48, 0.72, 0.837, 0.803, 0.753, 0.83, 0.92, 0.98, 0.985, 0.935, 0.83, 0.625, 0.525]
sr2_red = [0.86, 0.92, 0.94, 0.945, 0.945, 0.925, 0.84, 0.745, 0.733, 0.773, 0.79, 0.753, 0.635, 0.43,
           0.23, 0.174, 0.30, 0.49, 0.66, 0.685, 0.695, 0.795, 0.915, 0.955, 0.96, 0.895, 0.765, 0.612, 0.525]
sr2_green = [0.835, 0.89, 0.902, 0.903, 0.90, 0.875, 0.78, 0.66, 0.62, 0.608, 0.565, 0.47, 0.35, 0.23,
             0.113, 0.09, 0.15, 0.26, 0.39, 0.46, 0.53, 0.632, 0.75, 0.823, 0.857, 0.83, 0.733, 0.575, 0.505]
sr2_obs_x = [4076.955, 4076.977, 4077.003, 4077.031, 4077.061, 4077.088, 4077.116, 4077.143, 4077.17, 4077.197,
             4077.228, 4077.255, 4077.281, 4077.309, 4077.337, 4077.364, 4077.394, 4077.422, 4077.448, 4077.475,
             4077.503, 4077.53, 4077.557, 4077.584, 4077.608, 4077.636, 4077.663, 4077.69, 4077.72, 4077.744,
             4077.772, 4077.799, 4077.829, 4077.857, 4077.883, 4077.914, 4077.942, 4077.971, 4077.998, 4078.026,
             4078.053, 4078.079, 4078.107, 4078.135, 4078.162, 4078.188, 4078.216, 4078.246, 4078.273, 4078.301,
             4078.331, 4078.355]
sr2_obs_y = [0.954, 0.964, 0.998, 0.978, 0.978, 0.994, 0.99, 1.018, 0.998, 0.914,
             0.843, 0.777, 0.733, 0.703, 0.662, 0.652, 0.676, 0.696, 0.723, 0.733,
             0.729, 0.688, 0.672, 0.572, 0.441, 0.351, 0.311, 0.25, 0.234, 0.28,
             0.347, 0.387, 0.451, 0.528, 0.548, 0.532, 0.528, 0.56, 0.636, 0.737,
             0.817, 0.897, 0.958, 0.994, 0.978, 0.897, 0.863, 0.833, 0.763, 0.672,
             0.596, 0.552]
sr2_xticks = [4077.0, 4077.2, 4077.4, 4077.6, 4077.8, 4078.0, 4078.2]
sr2_yticks = [0.0, 0.2, 0.4, 0.6, 0.8, 1.0]

ion_labels = ['Sr II', 'Y II', 'Zr II', 'Ba II', 'La II', 'Ce II',
              'Nd II', 'Sm II', 'Eu II', 'Dy II', 'Th II', 'Sr II']

panels = [
    dict(x=sr1_x, m=(sr1_blue, sr1_cyan, sr1_red, sr1_green), ox=sr1_obs_x, oy=sr1_obs_y,
         xlim=(4214.5, 4216.5), xt=sr1_xticks, ylim=(0.0, 1.1), yt=sr1_yticks, yf='%.1f', order='gcrb', bw=99),
    dict(x=y_x, m=(y_blue, y_cyan, y_red, y_green), ox=y_obs_x, oy=y_obs_y,
         xlim=(4882.75, 4884.5), xt=y_xticks, ylim=(0.5, 1.1), yt=y_yticks, yf='%.1f', order='bcrg', bw=98),
    dict(x=zr_x, m=(zr_blue, zr_cyan, zr_red, zr_green), ox=zr_obs_x, oy=zr_obs_y,
         xlim=(4211.453, 4212.398), xt=zr_xticks, ylim=(0.5, 1.1), yt=zr_yticks, yf='%.1f', order='grcb', bw=98),
    dict(x=ba_x, m=(ba_blue, ba_cyan, ba_red, ba_green), ox=ba_obs_x, oy=ba_obs_y,
         xlim=(4553.0, 4555.0), xt=ba_xticks, ylim=(0.0, 1.1), yt=ba_yticks, yf='%.1f', order='bgcr', bw=114),
    dict(x=la_x, m=(la_blue, la_cyan, la_red, la_green), ox=la_obs_x, oy=la_obs_y,
         xlim=(4739.3, 4741.3), xt=la_xticks, ylim=(0.75, 1.10), yt=la_yticks, yf='%.2f', order='bcrg', bw=99),
    dict(x=ce_x, m=(ce_blue, ce_cyan, ce_red, ce_green), ox=ce_obs_x, oy=ce_obs_y,
         xlim=(4627.3, 4629.1), xt=ce_xticks, ylim=(0.65, 1.1), yt=ce_yticks, yf='%.1f', order='gcrb', bw=115),
    dict(x=nd_x, m=(nd_blue, nd_cyan, nd_red, nd_green), ox=nd_obs_x, oy=nd_obs_y,
         xlim=(4706.0, 4707.0), xt=nd_xticks, ylim=(0.65, 1.1), yt=nd_yticks, yf='%.1f', order='gcrb', bw=108),
    dict(x=sm_x, m=(sm_blue, sm_cyan, sm_red, sm_green), ox=sm_obs_x, oy=sm_obs_y,
         xlim=(4641.2, 4643.2), xt=sm_xticks, ylim=(0.80, 1.048), yt=sm_yticks, yf='%.2f', order='bcrg', bw=94),
    dict(x=eu_x, m=(eu_blue, eu_cyan, eu_red, eu_green), ox=eu_obs_x, oy=eu_obs_y,
         xlim=(4128.9, 4130.0), xt=eu_xticks, ylim=(0.0, 1.1), yt=eu_yticks, yf='%.1f', order='bcrg', bw=105),
    dict(x=dy_x, m=(dy_blue, dy_cyan, dy_red, dy_green), ox=dy_obs_x, oy=dy_obs_y,
         xlim=(4448.8, 4450.8), xt=dy_xticks, ylim=(0.4, 1.1), yt=dy_yticks, yf='%.1f', order='bcrg', bw=114),
    dict(x=th_x, m=(th_blue, th_cyan, th_red, th_green), ox=th_obs_x, oy=th_obs_y,
         xlim=(4018.4, 4019.5), xt=th_xticks, ylim=(0.6, 1.1), yt=th_yticks, yf='%.1f', order='gcrb', bw=104),
    dict(x=sr2_x, m=(sr2_blue, sr2_cyan, sr2_red, sr2_green), ox=sr2_obs_x, oy=sr2_obs_y,
         xlim=(4076.95, 4078.36), xt=sr2_xticks, ylim=(0.0, 1.1), yt=sr2_yticks, yf='%.1f', order='gcrb', bw=107),
]

W, H = 1536, 1097
fig = plt.figure(figsize=(W / 100, H / 100), dpi=100)
fig.patch.set_facecolor('white')
col_left = [96, 608, 1119]
row_top = [30, 305, 580, 853]
AXW, AXH = 387, 183
box_left = [0.083, 0.111, 0.067]
COLORS = {'b': '#0000ff', 'c': '#40f7c2', 'r': '#ff0000', 'g': '#14981a'}

for i, p in enumerate(panels):
    r, c = divmod(i, 3)
    ax = fig.add_axes([col_left[c] / W, 1 - (row_top[r] + AXH) / H, AXW / W, AXH / H])
    ax.plot(p['ox'], p['oy'], 'o', color='black', ms=5.5, mew=0, zorder=2)
    models = dict(zip('bcrg', p['m']))
    for k, key in enumerate(p['order']):
        ax.plot(p['x'], models[key], color=COLORS[key], lw=3, zorder=3 + k,
                solid_joinstyle='miter', solid_capstyle='butt')
    ax.set_xlim(*p['xlim'])
    ax.set_ylim(*p['ylim'])
    ax.xaxis.set_major_locator(FixedLocator(p['xt']))
    ax.yaxis.set_major_locator(FixedLocator(p['yt']))
    ax.xaxis.set_minor_locator(AutoMinorLocator(5))
    ax.yaxis.set_minor_locator(AutoMinorLocator(5))
    ax.xaxis.set_major_formatter(FormatStrFormatter('%.1f'))
    ax.yaxis.set_major_formatter(FormatStrFormatter(p['yf']))
    ax.tick_params(which='both', direction='in', top=True, right=True, labelsize=13.5, width=0.9)
    ax.tick_params(axis='x', which='both', pad=7.2)
    ax.tick_params(axis='y', which='both', pad=5)
    ax.tick_params(which='major', length=6)
    ax.tick_params(which='minor', length=3)
    ax.set_xlabel('Wavelength in Angstrom', fontsize=13.3, labelpad=2.2)
    ax.set_ylabel('Normalized flux', fontsize=13.3, labelpad=5)
    bw = p['bw'] / AXW
    ax.add_patch(Rectangle((box_left[c], 0.278), bw, 0.187, transform=ax.transAxes,
                           facecolor='white', edgecolor='#333333', lw=0.9, zorder=10))
    ax.text(box_left[c] + bw / 2, 0.318, ion_labels[i], transform=ax.transAxes, ha='center',
            va='baseline', fontsize=20, color='red', zorder=11)
    ticks = ax.yaxis.get_major_ticks()
    if abs(p['yt'][0] - p['ylim'][0]) < 1e-6:
        lab = ticks[0].label1
        lab.set_transform(lab.get_transform() + ScaledTranslation(0, 0.07, fig.dpi_scale_trans))
    if abs(p['yt'][-1] - p['ylim'][1]) < 1e-6:
        lab = ticks[-1].label1
        lab.set_transform(lab.get_transform() + ScaledTranslation(0, -0.035, fig.dpi_scale_trans))

fig.savefig('out.png', dpi=100, facecolor='white')
